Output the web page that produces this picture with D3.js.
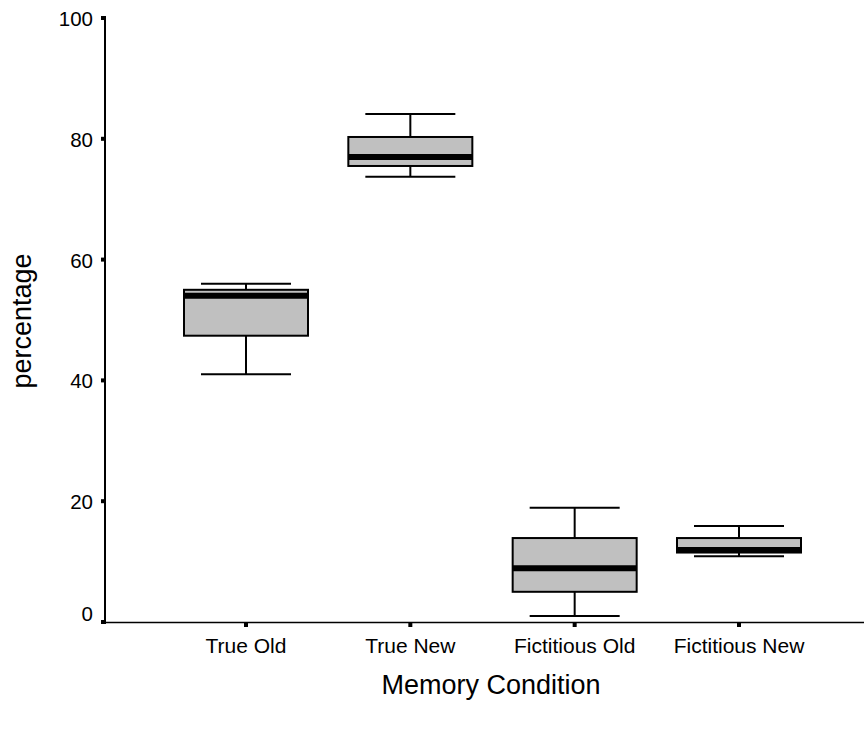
<!DOCTYPE html>
<html>
<head>
<meta charset="utf-8">
<script src="https://cdn.jsdelivr.net/npm/d3@7"></script>
<style>
  body { margin: 0; background: #fff; }
  text { font-family: "Liberation Sans", Arial, sans-serif; fill: #000; }
</style>
</head>
<body>
<svg id="chart" width="864" height="729"></svg>
<script>
// box plot values
var categories = ['True Old', 'True New', 'Fictitious Old', 'Fictitious New'];
var whiskerLow  = [41.0, 73.7, 1.0, 10.9];
var quart1      = [47.4, 75.5, 5.0, 11.5];
var medians     = [54.0, 77.0, 8.9, 11.9];
var quart3      = [55.0, 80.3, 13.9, 13.9];
var whiskerHigh = [56.0, 84.1, 18.9, 15.9];
var yTicks = [0, 20, 40, 60, 80, 100];

var boxes = categories.map(function(c, i) {
  return { name: c, lo: whiskerLow[i], q1: quart1[i], med: medians[i], q3: quart3[i], hi: whiskerHigh[i] };
});

var svg = d3.select('#chart');

var x = d3.scalePoint().domain(categories).range([246, 739]);
var y = d3.scaleLinear().domain([0, 100]).range([622, 18]);

var boxW = 124, capW = 90;

// axes lines
svg.append('line').attr('x1', 105).attr('x2', 105).attr('y1', 17).attr('y2', 623)
  .attr('stroke', '#000').attr('stroke-width', 2);
svg.append('line').attr('x1', 104).attr('x2', 864).attr('y1', 622.5).attr('y2', 622.5)
  .attr('stroke', '#000').attr('stroke-width', 1.5);

// y ticks
var yt = svg.append('g');
yt.selectAll('rect').data(yTicks).enter().append('rect')
  .attr('x', 101).attr('y', function(d) { return y(d) - 2; })
  .attr('width', 5).attr('height', 4).attr('fill', '#000');
yt.selectAll('text').data(yTicks).enter().append('text')
  .attr('x', 93).attr('y', function(d) { return y(d) + 8 - (d === 0 ? 9 : 0); })
  .attr('text-anchor', 'end')
  .attr('font-size', 20.5).text(function(d) { return d; });

// x ticks
var xt = svg.append('g');
xt.selectAll('rect').data(categories).enter().append('rect')
  .attr('x', function(d) { return x(d) - 2; }).attr('y', 622)
  .attr('width', 4).attr('height', 5).attr('fill', '#000');
xt.selectAll('text').data(categories).enter().append('text')
  .attr('x', function(d) { return x(d); }).attr('y', 653)
  .attr('text-anchor', 'middle').attr('font-size', 21)
  .text(function(d) { return d; });

// axis titles
svg.append('text').attr('x', 491).attr('y', 694).attr('text-anchor', 'middle')
  .attr('font-size', 27).text('Memory Condition');
svg.append('text').attr('transform', 'translate(31,321) rotate(-90)')
  .attr('text-anchor', 'middle').attr('font-size', 27).text('percentage');

// boxes
var g = svg.selectAll('g.box').data(boxes).enter().append('g').attr('class', 'box');

g.append('line')
  .attr('x1', function(d) { return x(d.name); }).attr('x2', function(d) { return x(d.name); })
  .attr('y1', function(d) { return y(d.lo); }).attr('y2', function(d) { return y(d.hi); })
  .attr('stroke', '#000').attr('stroke-width', 2);
g.append('line')
  .attr('x1', function(d) { return x(d.name) - capW / 2; }).attr('x2', function(d) { return x(d.name) + capW / 2; })
  .attr('y1', function(d) { return y(d.hi); }).attr('y2', function(d) { return y(d.hi); })
  .attr('stroke', '#000').attr('stroke-width', 2);
g.append('line')
  .attr('x1', function(d) { return x(d.name) - capW / 2; }).attr('x2', function(d) { return x(d.name) + capW / 2; })
  .attr('y1', function(d) { return y(d.lo); }).attr('y2', function(d) { return y(d.lo); })
  .attr('stroke', '#000').attr('stroke-width', 2);
g.append('rect')
  .attr('x', function(d) { return x(d.name) - boxW / 2; })
  .attr('y', function(d) { return y(d.q3); })
  .attr('width', boxW)
  .attr('height', function(d) { return y(d.q1) - y(d.q3); })
  .attr('fill', '#c0c0c0').attr('stroke', '#000').attr('stroke-width', 2);
g.append('line')
  .attr('x1', function(d) { return x(d.name) - boxW / 2; }).attr('x2', function(d) { return x(d.name) + boxW / 2; })
  .attr('y1', function(d) { return y(d.med); }).attr('y2', function(d) { return y(d.med); })
  .attr('stroke', '#000').attr('stroke-width', 6);
</script>
</body>
</html>
